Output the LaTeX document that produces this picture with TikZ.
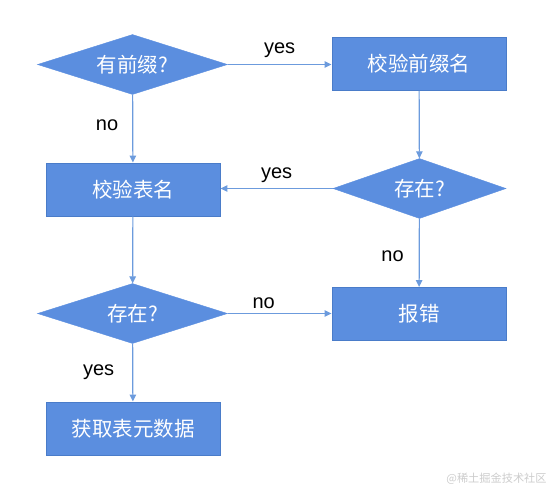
\documentclass[tikz,border=0pt]{standalone}
\usepackage{fontspec}
\setmainfont{Liberation Sans}
\newfontfamily\cjk{Noto Sans CJK SC}
\usepackage{tikz}
\usetikzlibrary{arrows.meta,positioning,shapes.geometric}
\definecolor{metaFill}{HTML}{5B8EDF}
\definecolor{metaBorder}{HTML}{4A7CC9}
\definecolor{metaLine}{HTML}{6C9BDD}
\tikzset{
  metaNode/.style={draw=metaBorder, line width=0.9pt, fill=metaFill, text=white, align=center, font=\cjk\fontsize{20.5}{24}\selectfont, inner sep=0pt, minimum width=174pt, minimum height=53pt},
  metaDecision/.style={draw=metaFill, diamond, aspect=3.1, fill=metaFill, text=white, align=center, font=\cjk\fontsize{20.5}{24}\selectfont, inner sep=0pt, minimum width=190pt, minimum height=60pt},
  metaArrow/.style={-{Triangle[length=7pt,width=6.5pt]}, draw=metaLine, line width=1.2pt},
  metaEdgeLabel/.style={midway, font=\fontsize{20}{24}\selectfont, text=black, inner sep=0pt},
  metaMark/.style={text=black!20, font=\cjk\fontsize{11.2}{13}\selectfont, inner sep=0pt}
}
\begin{document}
\begin{tikzpicture}[x=1pt, y=-1pt]
  \useasboundingbox (0,0) rectangle (553,491);
  \node[metaDecision] (hasPrefix) at (132.5,64.5) {有前缀?};
  \node[metaNode] (checkPrefix) at (419,64) {校验前缀名};
  \node[metaNode] (checkTable) at (133,189.5) {校验表名};
  \node[metaDecision, minimum width=173pt] (prefixExists) at (419.5,188.5) {存在?};
  \node[metaNode] (reportError) at (419,314) {报错};
  \node[metaDecision] (tableExists) at (132.5,313.5) {存在?};
  \node[metaNode] (fetchMeta) at (133,428.5) {获取表元数据};
  \node[metaMark] (mark) at (496.5,479) {@稀土掘金技术社区};
  \draw[metaArrow] (hasPrefix.east) -- node[metaEdgeLabel, above=6pt] {yes} (checkPrefix.west |- hasPrefix.east);
  \draw[metaArrow] (hasPrefix) -- node[metaEdgeLabel, left=14pt, yshift=3pt] {no} (checkTable);
  \draw[metaArrow] (checkPrefix) -- (prefixExists);
  \draw[metaArrow] (prefixExists.west) -- node[metaEdgeLabel, above=5pt] {yes} (checkTable.east |- prefixExists.west);
  \draw[metaArrow] (prefixExists) -- node[metaEdgeLabel, left=15pt, yshift=-3pt] {no} (reportError);
  \draw[metaArrow] (checkTable) -- (tableExists);
  \draw[metaArrow] (tableExists.east) -- node[metaEdgeLabel, above=4pt, xshift=-16pt] {no} (reportError.west |- tableExists.east);
  \draw[metaArrow] (tableExists) -- node[metaEdgeLabel, left=18pt] {yes} (fetchMeta);
\end{tikzpicture}
\end{document}
